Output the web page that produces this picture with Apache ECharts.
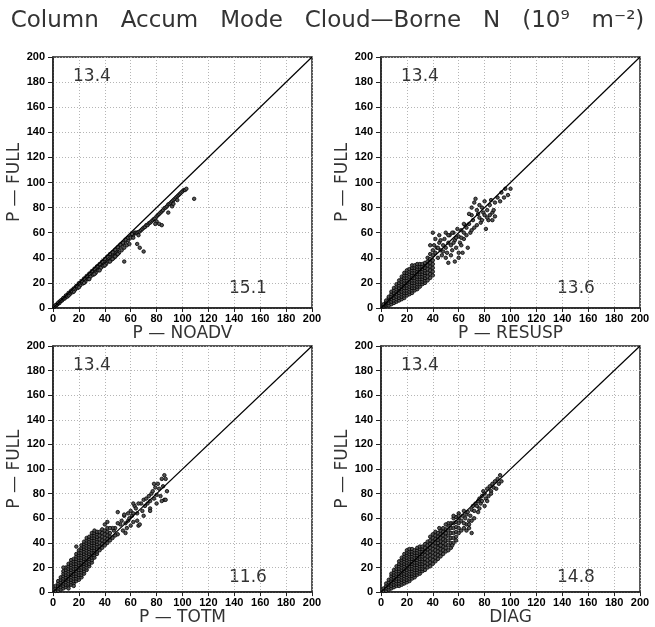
<!DOCTYPE html>
<html>
<head>
<meta charset="utf-8">
<script src="https://cdn.jsdelivr.net/npm/echarts@6/dist/echarts.min.js"></script>
<style>
  html, body { margin: 0; padding: 0; background: #fff; }
  #main { width: 655px; height: 627px; }
</style>
</head>
<body>
<div id="main"></div>
<script>
// 坐标轴刻度
var ticks = [0, 20, 40, 60, 80, 100, 120, 140, 160, 180, 200];
var xNames = ['P — NOADV', 'P — RESUSP', 'P — TOTM', 'DIAG'];
var yName = 'P — FULL';
// 面板内数字 (左上 / 右下)
var topNums = ['13.4', '13.4', '13.4', '13.4'];
var bottomNums = ['15.1', '13.6', '11.6', '14.8'];
// 1:1 线
var oneToOne = [[0, 0], [200, 200]];

// P-NOADV vs P-FULL
var noadv = [
  [1,1],[2,2],[3,3],[4,3.5],[5,5],[6,5.5],[7,6.5],[8,7.5],[9,8],[10,9.5],[11,10],[12,11],[13,12],[14,13],[15,14],[16,15],[17,15.5],[18,17],[19,17.5],[20,19],
  [21,19.5],[22,20.5],[23,21],[24,22.5],[25,23],[26,24.5],[27,25],[28,26],[29,27],[30,28],[31,29],[32,30],[33,31],[34,32],[35,33],[36,34],[37,34.5],[38,36],[39,36.5],[40,37.5],
  [41,38.5],[42,39.5],[43,40],[44,41],[45,42.5],[46,43],[47,44],[48,45],[49,46],[50,47],[52,49],[54,51],[56,53],[58,54],
  [3,2.5],[5,4],[7,6],[9,7.5],[11,9],[13,11],[15,12.5],[17,14.5],[19,16],[21,18],[23,19.5],[25,21],[27,23],[29,25],[31,26.5],[33,28],[35,30],[37,32],[39,33.5],[41,35],
  [43,37],[45,38.5],[47,40],[49,42],[51,44],[53,46],[55,48],[57,50],[59,51],[28,23],[32,27],[36,30],[40,34],[44,37],[48,41],[24,20],[20,16.5],[16,13],[12,10],[46,39],[50,43],
  [2,2.2],[4,4.2],[6,6],[8,8],[10,10],[12,12],[14,13.8],[16,15.6],[18,17.6],[20,19.8],[22,21.5],[24,23.5],[26,25.5],[28,27.4],[30,29.4],[32,31.3],[34,33.2],[36,35],[38,37],[40,39],
  [42,41],[44,43],[46,44.5],[48,46.5],[50,48.5],[52,50.5],[54,52],[56,54.5],[58,56],[60,57],[62,58],
  [60,56],[62,56],[63,60],[64,60],[65,60],[66,60.5],[67,61],[68,62],[69,63],[70,64],[71,64.5],[72,66],[73,66],[74,67.5],[75,68],[76,69],[77,70],[78,71],[79,71.5],[80,73],
  [81,74],[82,75],[83,76],[84,77],[85,78],[86,79.5],[87,80],[88,81],[89,82.5],[90,83],[91,84],[92,85],[93,86],[94,87],[95,88],[96,89],[97,90],[98,91],[99,92],[100,93],
  [101,94],[102,94],[103,95],[109,87],
  [55,37],[65,51],[67,48],[70,45],[80,69],[82,67],[84,66],[89,76],[92,81],[93,83],[96,86],[79,67],[61,59],[66,58]
];

// P-RESUSP vs P-FULL
var resusp = [
  [2,1],[2,2],[2,3],
  [4,2],[4,3],[4,4],[4,5],[4,6],
  [6,2],[6,4],[6,6],[6,8],[6,9],
  [8,3],[8,5],[8,7],[8,9],[8,11],[8,13],
  [10,4],[10,6],[10,8],[10,10],[10,12],[10,14],[10,16],
  [12,5],[12,7],[12,9],[12,11],[12,13],[12,15],[12,17],[12,19],
  [14,6],[14,8],[14,10],[14,12],[14,14],[14,16],[14,18],[14,20],[14,22],
  [16,7],[16,9],[16,11],[16,13],[16,15],[16,17],[16,19],[16,21],[16,23],[16,25],
  [18,8],[18,10],[18,12],[18,14],[18,16],[18,18],[18,20],[18,22],[18,24],[18,26],[18,28],
  [20,10],[20,12],[20,14],[20,16],[20,18],[20,20],[20,22],[20,24],[20,26],[20,28],[20,30],
  [22,11],[22,13],[22,15],[22,17],[22,19],[22,21],[22,23],[22,25],[22,27],[22,29],[22,31],
  [24,12],[24,14],[24,16],[24,18],[24,20],[24,22],[24,24],[24,26],[24,28],[24,30],[24,32],[24,34],
  [26,14],[26,16],[26,18],[26,20],[26,22],[26,24],[26,26],[26,28],[26,30],[26,32],[26,34],
  [28,15],[28,17],[28,19],[28,21],[28,23],[28,25],[28,27],[28,29],[28,31],[28,33],[28,35],
  [30,17],[30,19],[30,21],[30,23],[30,25],[30,27],[30,29],[30,31],[30,33],[30,35],
  [32,19],[32,21],[32,23],[32,25],[32,27],[32,29],[32,31],[32,33],[32,35],
  [34,20],[34,22],[34,24],[34,26],[34,28],[34,30],[34,32],[34,34],[34,36],
  [36,22],[36,25],[36,28],[36,31],[36,34],[36,37],[36,40],
  [38,24],[38,27],[38,30],[38,33],[38,36],[38,39],[38,43],
  [40,26],[40,29],[40,32],[40,35],[40,38],[40,42],[40,46],
  [41,50],[42,44],[43,48],[44,40],[45,52],[46,46],[47,42],[48,50],[49,55],[50,48],[51,44],[52,52],[53,58],[54,50],[55,46],[56,60],[57,54],[58,48],[59,63],[60,57],
  [61,52],[62,62],[63,44],[64,55],[65,66],[66,58],[67,48],[68,67],[69,60],[70,74],[71,70],[72,84],[73,87],[74,66],[75,75],[76,72],[77,68],[78,80],[79,76],[80,74],
  [81,63],[82,78],[83,70],[84,82],[85,86],[86,76],[87,78],[88,73],[90,88],[92,85],[93,92],[95,88],[96,95],[98,90],[100,95],
  [38,50],[42,55],[45,58],[50,60],[52,58],[55,60],[46,54],[44,48],[48,45],[40,60],[56,52],[58,56],[60,44],[62,56],[64,67],[70,62],[72,64],[74,78],[76,82],[78,70],
  [80,85],[82,72],[84,74],[86,70],[88,84],[54,42],[50,40],[57,37],[60,40],[52,36],[70,80],[68,75],[66,64],[64,60],[62,50]
];

// P-TOTM vs P-FULL
var totm = [
  [2,1],[2,3],[2,5],
  [4,1],[4,3],[4,5],[4,7],[4,9],
  [6,2],[6,4],[6,6],[6,8],[6,10],[6,12],
  [8,3],[8,5],[8,7],[8,9],[8,11],[8,13],[8,15],[8,17],
  [10,4],[10,6],[10,8],[10,10],[10,12],[10,14],[10,16],[10,18],[10,20],
  [12,5],[12,7],[12,9],[12,11],[12,13],[12,15],[12,17],[12,19],[12,21],[12,23],
  [14,6],[14,8],[14,10],[14,12],[14,14],[14,16],[14,18],[14,20],[14,22],[14,24],[14,26],
  [16,7],[16,9],[16,11],[16,13],[16,15],[16,17],[16,19],[16,21],[16,23],[16,25],[16,27],
  [18,9],[18,11],[18,13],[18,15],[18,17],[18,19],[18,21],[18,23],[18,25],[18,27],[18,29],[18,31],
  [20,10],[20,12],[20,14],[20,16],[20,18],[20,20],[20,22],[20,24],[20,26],[20,28],[20,30],[20,32],[20,34],
  [22,12],[22,14],[22,16],[22,18],[22,20],[22,22],[22,24],[22,26],[22,28],[22,30],[22,32],[22,34],[22,36],[22,38],
  [24,15],[24,17],[24,19],[24,21],[24,23],[24,25],[24,27],[24,29],[24,31],[24,33],[24,35],[24,37],[24,39],[24,41],
  [26,18],[26,20],[26,22],[26,24],[26,26],[26,28],[26,30],[26,32],[26,34],[26,36],[26,38],[26,40],[26,42],[26,44],
  [28,21],[28,23],[28,25],[28,27],[28,29],[28,31],[28,33],[28,35],[28,37],[28,39],[28,41],[28,43],[28,45],
  [30,24],[30,26],[30,28],[30,30],[30,32],[30,34],[30,36],[30,38],[30,40],[30,42],[30,44],[30,46],[30,48],
  [32,28],[32,30],[32,32],[32,34],[32,36],[32,38],[32,40],[32,42],[32,44],[32,46],[32,48],[32,50],
  [34,31],[34,33],[34,35],[34,37],[34,39],[34,41],[34,43],[34,45],[34,47],[34,49],
  [36,34],[36,37],[36,40],[36,43],[36,46],[36,49],
  [38,36],[38,39],[38,42],[38,45],[38,48],[38,51],
  [40,38],[40,41],[40,44],[40,47],[40,50],
  [42,40],[42,43],[42,46],[42,49],[42,52],
  [44,42],[44,45],[44,48],
  [12,3],[16,5],[18,37],[8,20],
  [46,44],[47,50],[48,52],[50,47],[52,55],[53,58],[54,50],[55,62],[56,56],[57,52],[58,58],[59,60],[60,66],[61,62],[62,57],[63,70],[64,68],[65,64],[66,54],[67,55],
  [68,72],[69,66],[70,75],[71,70],[72,76],[73,72],[74,78],[75,68],[76,80],[77,82],[78,76],[79,85],[80,79],[81,88],[82,84],[83,78],[84,92],[85,86],[86,95],[87,92],
  [88,82],[86,75],[84,74],[70,62],[66,72],[62,64],[58,64],[50,56],[46,52],[44,52],[48,46],[56,48],[60,54],[65,58],[75,74],[78,88],[80,72],
  [40,55],[42,57],[50,65],[55,63],[62,72],[75,66],[87,75]
];

// DIAG vs P-FULL
var diag = [
  [2,1],[2,3],
  [4,1],[4,3],[4,5],[4,7],
  [6,2],[6,4],[6,6],[6,8],[6,10],
  [8,3],[8,5],[8,7],[8,9],[8,11],[8,13],[8,15],
  [10,4],[10,6],[10,8],[10,10],[10,12],[10,14],[10,16],[10,18],
  [12,5],[12,7],[12,9],[12,11],[12,13],[12,15],[12,17],[12,19],[12,21],
  [14,5],[14,7],[14,9],[14,11],[14,13],[14,15],[14,17],[14,19],[14,21],[14,23],[14,25],
  [16,6],[16,8],[16,10],[16,12],[16,14],[16,16],[16,18],[16,20],[16,22],[16,24],[16,26],[16,28],
  [18,7],[18,9],[18,11],[18,13],[18,15],[18,17],[18,19],[18,21],[18,23],[18,25],[18,27],[18,29],[18,31],
  [20,8],[20,10],[20,12],[20,14],[20,16],[20,18],[20,20],[20,22],[20,24],[20,26],[20,28],[20,30],[20,32],[20,34],
  [22,9],[22,11],[22,13],[22,15],[22,17],[22,19],[22,21],[22,23],[22,25],[22,27],[22,29],[22,31],[22,33],[22,35],
  [24,11],[24,13],[24,15],[24,17],[24,19],[24,21],[24,23],[24,25],[24,27],[24,29],[24,31],[24,33],[24,35],
  [26,12],[26,14],[26,16],[26,18],[26,20],[26,22],[26,24],[26,26],[26,28],[26,30],[26,32],[26,34],
  [28,14],[28,16],[28,18],[28,20],[28,22],[28,24],[28,26],[28,28],[28,30],[28,32],[28,34],[28,36],
  [30,15],[30,17],[30,19],[30,21],[30,23],[30,25],[30,27],[30,29],[30,31],[30,33],[30,35],[30,37],
  [32,17],[32,19],[32,21],[32,23],[32,25],[32,27],[32,29],[32,31],[32,33],[32,35],[32,37],
  [34,18],[34,21],[34,24],[34,27],[34,30],[34,33],[34,36],[34,39],
  [36,20],[36,23],[36,26],[36,29],[36,32],[36,35],[36,38],[36,41],
  [38,21],[38,24],[38,27],[38,30],[38,33],[38,36],[38,39],[38,42],[38,45],
  [40,23],[40,26],[40,29],[40,32],[40,35],[40,38],[40,41],[40,44],[40,47],
  [42,25],[42,28],[42,31],[42,34],[42,37],[42,40],[42,43],[42,46],[42,49],
  [44,27],[44,30],[44,33],[44,36],[44,39],[44,42],[44,45],[44,48],
  [46,29],[46,32],[46,35],[46,38],[46,41],[46,44],[46,47],[46,50],
  [48,31],[48,34],[48,37],[48,40],[48,43],[48,46],[48,49],
  [50,33],[50,36],[50,39],[50,42],[50,45],[50,48],[50,51],
  [52,34],[52,38],[52,42],[52,46],[52,50],[52,54],
  [54,36],[54,40],[54,44],[54,48],[54,52],[54,56],
  [56,40],[56,44],[56,48],[56,52],[56,56],[56,60],
  [58,45],[58,49],[58,53],[58,57],[58,61],
  [60,48],[60,52],[60,56],[60,60],[60,64],
  [62,58],[63,62],[64,66],[65,60],[66,63],[67,65],[68,58],[69,62],[70,67],[71,70],[72,66],[73,72],[74,70],[75,74],[76,76],[77,72],[78,78],[79,82],[80,80],[81,76],
  [82,84],[83,78],[84,86],[85,82],[86,88],[87,85],[88,90],[89,84],[90,92],[91,88],[92,95],[93,90],[80,70],[75,65],[70,58],[66,55],[62,50],[58,42],[55,38],[60,62],
  [56,62],[52,56],[50,55],[45,52],[48,52],[44,40],[46,38],[66,50],[68,55],[72,60],[78,74],[76,68],[85,80],[82,74],[64,52],[70,48],[68,52],[64,56]
];

var panelData = [noadv, resusp, totm, diag];

var fontMain = 'Liberation Sans, Arial, sans-serif';
var fontThin = 'DejaVu Sans, sans-serif';

// 面板位置
var grids = [
  { left: 53, top: 57, width: 259, height: 251 },
  { left: 381, top: 57, width: 259, height: 251 },
  { left: 53, top: 346, width: 259, height: 251 },
  { left: 381, top: 346, width: 259, height: 251 }
];

var option = {
  animation: false,
  backgroundColor: '#fff',
  title: {
    text: 'Column   Accum   Mode   Cloud—Borne   N   (10⁹   m⁻²)',
    left: 'center',
    top: 5,
    textStyle: { fontFamily: fontThin, fontSize: 23, fontWeight: 'normal', color: '#333' }
  },
  grid: [],
  xAxis: [],
  yAxis: [],
  series: [],
  graphic: []
};

grids.forEach(function (g, i) {
  option.grid.push({
    left: g.left, top: g.top, width: g.width, height: g.height,
    show: true, borderColor: '#222', borderWidth: 1.5, backgroundColor: 'transparent'
  });
  option.xAxis.push({
    gridIndex: i, type: 'value', min: 0, max: 200, interval: 20,
    name: xNames[i], nameLocation: 'middle', nameGap: 14,
    nameTextStyle: { fontFamily: fontThin, fontSize: 17, color: '#333' },
    axisLine: { show: true, onZero: false, lineStyle: { color: '#222', width: 1.5 } },
    axisTick: { show: true, length: 4, lineStyle: { color: '#222' } },
    axisLabel: { margin: 5, fontFamily: fontMain, fontSize: 11, fontWeight: 'bold', color: '#000' },
    splitLine: { show: true, lineStyle: { color: '#b5b5b5', type: [1, 2], width: 1 } }
  });
  option.yAxis.push({
    gridIndex: i, type: 'value', min: 0, max: 200, interval: 20,
    name: yName, nameLocation: 'middle', nameGap: 26,
    nameTextStyle: { fontFamily: fontThin, fontSize: 17, color: '#333' },
    axisLine: { show: true, onZero: false, lineStyle: { color: '#222', width: 1.5 } },
    axisTick: { show: true, length: 5, lineStyle: { color: '#222' } },
    axisLabel: { margin: 8, fontFamily: fontMain, fontSize: 11, fontWeight: 'bold', color: '#000' },
    splitLine: { show: true, lineStyle: { color: '#b5b5b5', type: [1, 2], width: 1 } }
  });
  option.series.push({
    type: 'line', xAxisIndex: i, yAxisIndex: i,
    data: oneToOne, symbol: 'none', silent: true,
    lineStyle: { color: '#000', width: 1.2 }
  });
  option.series.push({
    type: 'scatter', xAxisIndex: i, yAxisIndex: i,
    data: panelData[i], symbol: 'circle', symbolSize: 3.5,
    itemStyle: { color: '#555', borderColor: '#000', borderWidth: 0.8, opacity: 1 }
  });
  // 左上与右下的数值标注
  option.graphic.push({
    type: 'text', left: g.left + 20, top: g.top + 11,
    style: { text: topNums[i], fontFamily: fontThin, fontSize: 17, fill: '#333' }
  });
  option.graphic.push({
    type: 'text', left: g.left + 176, top: g.top + 223,
    style: { text: bottomNums[i], fontFamily: fontThin, fontSize: 17, fill: '#333' }
  });
});

var chart = echarts.init(document.getElementById('main'));
chart.setOption(option);
</script>
</body>
</html>
